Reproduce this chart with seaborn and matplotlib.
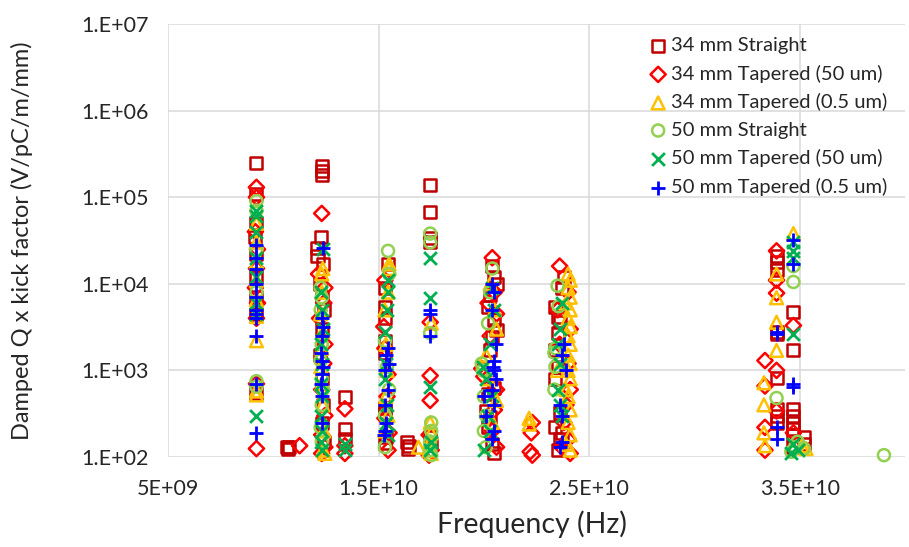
import numpy as np
import pandas as pd
import matplotlib
matplotlib.use("Agg")
import matplotlib.pyplot as plt
import seaborn as sns

# ---------------- data (frequency in GHz, value in V/pC/m/mm) ----------------
series_names = ["34 mm Straight", "34 mm Tapered (50 um)", "34 mm Tapered (0.5 um)",
                "50 mm Straight", "50 mm Tapered (50 um)", "50 mm Tapered (0.5 um)"]

s1_ghz = [9.2, 9.2, 9.2, 9.15, 9.2, 9.2, 9.2, 9.2, 9.2,
          10.65, 10.75, 10.7,
          12.3, 12.3, 12.3, 12.25, 12.1, 12.1, 12.35, 12.2, 12.3, 12.4, 12.3, 12.2, 12.3, 12.35, 12.3, 12.4,
          13.4, 13.4, 13.4,
          15.45, 15.3, 15.3, 15.3, 15.3, 15.3, 15.3, 15.3, 15.35, 15.3,
          16.35, 16.45, 16.4,
          17.45, 17.45, 17.45, 17.45, 17.45, 17.5,
          20.4, 20.5, 20.6, 20.3, 20.2, 20.5, 20.6, 20.4, 20.3, 20.5, 20.2, 20.1, 20.3, 20.2, 20.4, 20.5,
          23.8, 23.7, 23.4, 23.5, 23.6, 23.5, 23.4, 23.5, 23.4, 23.6, 23.4, 23.7, 23.6, 23.5,
          33.9, 33.9, 33.9, 33.9, 33.9, 33.9, 33.9, 33.9, 33.9,
          34.7, 34.7, 34.7, 34.7, 34.7, 34.7, 34.7, 34.7, 35.2, 35.2]
s1_val = [2.5e5, 1.1e5, 5.0e4, 3.5e4, 2.2e4, 1.2e4, 7e3, 4.5e3, 5.5e2,
          1.3e2, 1.3e2, 1.25e2,
          2.3e5, 2.0e5, 1.8e5, 3.5e4, 2.6e4, 2.1e4, 1.7e4, 1.0e4, 7e3, 5e3, 3e3, 1.5e3, 8e2, 4e2, 2.5e2, 1.5e2,
          4.9e2, 2.1e2, 1.6e2,
          1.7e4, 8.9e3, 5.4e3, 4.0e3, 2.2e3, 1.6e3, 3.7e2, 3.2e2, 1.7e2, 1.45e2,
          1.5e2, 1.35e2, 1.25e2,
          1.4e5, 6.8e4, 3.4e4, 3.0e4, 1.7e2, 1.4e2,
          1.6e4, 1.2e4, 1.0e4, 7.4e3, 5.4e3, 3.8e3, 2.9e3, 2.4e3, 1.7e3, 6.3e2, 5.3e2, 3.4e2, 2.9e2, 2.2e2, 1.4e2, 1.1e2,
          1.2e4, 9e3, 5.4e3, 4.1e3, 3.6e3, 2.7e3, 1.7e3, 1.1e3, 7.9e2, 3.2e2, 2.2e2, 1.9e2, 1.6e2, 1.2e2,
          2.1e4, 1.8e4, 1.45e4, 2.8e3, 2.6e3, 8.1e2, 3.6e2, 3.0e2, 2.5e2,
          4.7e3, 1.7e3, 3.6e2, 3.0e2, 2.5e2, 2.1e2, 1.8e2, 1.3e2, 1.7e2, 1.4e2]

s2_ghz = [9.2, 9.2, 9.15, 9.25, 9.2, 9.15, 9.25, 9.2, 9.2, 9.2,
          11.25,
          12.3, 12.15, 12.45, 12.4, 12.2, 12.45, 12.4, 12.3, 12.45, 12.3, 12.45, 12.3,
          13.4, 13.4, 13.4,
          15.3, 15.25, 15.3, 15.45, 15.4, 15.3, 15.5, 15.45,
          17.45, 17.45, 17.45, 17.4, 17.5, 17.4,
          20.4, 20.5, 20.2, 20.6, 20.3, 19.9, 20.0, 20.6, 20.5, 20.4, 20.6,
          22.3, 22.25, 22.2, 22.3,
          23.6, 24.0, 23.5, 24.1, 23.6, 24.0, 24.1, 23.9, 23.8, 24.0, 24.1, 23.7,
          33.9, 33.9, 33.9, 33.35, 33.35, 33.9, 33.9, 33.35, 33.35, 34.7, 34.7]
s2_val = [1.3e5, 1.0e5, 4e4, 2.5e4, 1.5e4, 9e3, 6e3, 4e3, 7e2, 1.25e2,
          1.35e2,
          6.5e4, 1.3e4, 9e3, 6e3, 4e3, 2e3, 1.2e3, 6e2, 3e2, 1.8e2, 1.3e2, 1.1e2,
          3.6e2, 1.35e2, 1.1e2,
          1.1e4, 3.2e3, 1.8e3, 9e2, 5e2, 2.8e2, 1.9e2, 1.2e2,
          8.7e2, 4.5e2, 3.6e3, 1.8e2, 1.2e2, 1.05e2,
          2.0e4, 8e3, 6e3, 4.5e3, 2.5e3, 1.05e3, 8.5e2, 6e2, 3.5e2, 2e2, 1.3e2,
          2.5e2, 1.9e2, 1.15e2, 1.05e2,
          1.6e4, 8e3, 5e3, 3e3, 2e3, 1.2e3, 6e2, 4e2, 2.5e2, 1.6e2, 1.1e2, 1.3e2,
          2.4e4, 1.1e4, 7.8e3, 1.3e3, 6.6e2, 1.0e3, 3.4e2, 2.2e2, 1.2e2, 3.3e3, 1.9e2]

s3_ghz = [9.2, 9.2, 9.2, 9.2, 9.2, 9.2, 9.2, 9.2, 9.2,
          12.35, 12.3, 12.3, 12.25, 12.35, 12.3, 12.25, 12.3, 12.35, 12.4, 12.35, 12.45,
          15.5, 15.5, 15.45, 15.3, 15.35, 15.4, 15.35, 15.45, 15.3,
          16.9,
          17.5, 17.45, 17.5, 17.45, 17.4, 17.5,
          20.3, 20.5, 20.6, 20.1, 20.2, 20.6, 20.4,
          22.15, 22.15,
          24.0, 24.1, 24.0, 24.1, 23.9, 24.1, 24.0, 24.1, 24.0, 24.1, 24.0, 24.1, 24.0, 24.1, 23.9,
          24.0, 24.1, 24.0, 24.1, 23.9, 24.1, 23.5,
          34.7, 33.9, 33.9, 33.9, 33.9, 33.3, 33.3, 33.3, 33.35, 35.1, 35.3]
s3_val = [5.0e4, 3.0e4, 1.8e4, 1.1e4, 6.5e3, 4.2e3, 2.2e3, 5.2e2, 5.8e2,
          1.5e4, 1.3e4, 8e3, 4.5e3, 2.8e3, 1.8e3, 1.1e3, 7e2, 4e2, 2e2, 1.2e2, 1.1e2,
          1.7e4, 1.5e4, 8e3, 5e3, 2e3, 1e3, 5e2, 3e2, 2e2,
          1.3e2,
          3.5e3, 2.5e2, 1.9e2, 1.5e2, 1.2e2, 1.1e2,
          1e4, 5e3, 3e3, 1.5e3, 8e2, 4.5e2, 2.5e2,
          2.8e2, 2.4e2,
          1.3e4, 1.1e4, 9e3, 7e3, 6e3, 5e3, 4e3, 3.2e3, 2.5e3, 2e3, 1.5e3, 1.2e3, 1e3, 8e2, 6e2,
          5e2, 3.5e2, 2.5e2, 1.8e2, 1.4e2, 1.2e2, 1e3,
          3.8e4, 1.3e4, 6.9e3, 3.6e3, 1.7e3, 7.2e2, 4e2, 1.9e2, 1.35e2, 1.35e2, 1.25e2]

s4_ghz = [9.2, 9.2, 9.2, 9.2, 9.2, 9.2,
          12.25, 12.3, 12.25, 12.3, 12.25, 12.3, 12.35, 12.3, 12.25, 12.3,
          15.45, 15.5, 15.3, 15.4, 15.5, 15.3, 15.3,
          17.45, 17.45, 17.45, 17.5, 17.5, 17.45, 17.45, 17.5,
          20.4, 20.3, 20.2, 19.9, 19.95, 20.0, 20.1, 20.0, 20.1,
          23.5, 23.55, 23.4, 23.35, 23.4, 23.35,
          34.7, 34.7, 33.9, 34.9, 34.8, 35.2, 34.6,
          39.0]
s4_val = [9e4, 7e4, 2.5e4, 8e3, 7.5e2, 6.5e2,
          9e3, 7e3, 5e3, 2e3, 1.3e3, 8e2, 6e2, 4e2, 2.2e2, 1.5e2,
          2.4e4, 1.3e4, 2.2e3, 1.1e3, 6e2, 3e2, 1.3e2,
          3.8e4, 3.0e4, 2.7e3, 2.5e2, 2e2, 1.5e2, 1.2e2, 1.05e2,
          1.5e4, 8e3, 3.5e3, 1.2e3, 1e3, 5e2, 3e2, 2e2, 1.3e2,
          9.5e3, 5.5e3, 1.8e3, 1.6e3, 1.1e3, 6e2,
          1.6e4, 1.05e4, 4.8e2, 1.5e2, 1.3e2, 1.25e2, 1.15e2,
          1.05e2]

s5_ghz = [9.2, 9.2, 9.2, 9.2, 9.2, 9.2, 9.2, 9.2,
          12.35, 12.25, 12.3, 12.35, 12.25, 12.3, 12.25, 12.3, 12.25, 12.3, 12.25, 12.3,
          13.4, 13.4,
          15.45, 15.45, 15.4, 15.3, 15.35, 15.3, 15.4, 15.35, 15.45,
          17.45, 17.45, 17.45, 17.5, 17.45,
          20.4, 20.5, 20.3, 19.95, 20.1, 20.4, 20.2, 20.3, 20.0,
          23.7, 23.6, 23.5, 23.6, 23.5, 23.6, 23.7,
          34.7, 34.7, 34.7, 34.7, 34.7, 34.6, 34.9]
s5_val = [7e4, 6e4, 4e4, 2e4, 1.2e4, 6e3, 4.5e3, 3e2,
          2.5e4, 8e3, 5e3, 3e3, 2e3, 1.2e3, 7e2, 5e2, 3e2, 2e2, 1.5e2, 1.2e2,
          1.4e2, 1.2e2,
          1.1e4, 8e3, 5e3, 2.8e3, 1.2e3, 8e2, 4e2, 2.5e2, 1.8e2,
          2.0e4, 6.9e3, 6.4e2, 1.5e2, 1.2e2,
          9e3, 5e3, 2e3, 1.1e3, 8e2, 5e2, 3e2, 2e2, 1.2e2,
          6e3, 3e3, 2e3, 1.2e3, 6e2, 4e2, 3e2,
          3.0e4, 2.4e4, 2.0e4, 2.6e3, 1.4e2, 1.1e2, 1.2e2]

s6_ghz = [9.2, 9.2, 9.2, 9.2, 9.2, 9.2, 9.2, 9.2, 9.2, 9.2, 9.2,
          12.35, 12.3, 12.35, 12.3, 12.25, 12.3, 12.35, 12.3, 12.25, 12.3, 12.3,
          15.45, 15.35, 15.5, 15.3, 15.45, 15.3, 15.35, 15.3, 15.25,
          17.45, 17.45, 17.45,
          20.4, 20.5, 20.4, 20.6, 20.5, 20.45, 20.5, 20.6, 20.4, 20.0, 20.5, 20.1, 20.5, 20.4,
          23.8, 23.7, 23.9, 23.6, 23.7, 23.7, 23.6,
          34.7, 34.7, 34.7, 34.7, 33.9, 33.9, 33.9, 33.9]
s6_val = [2.8e4, 2.0e4, 1.5e4, 1.0e4, 7e3, 5e3, 4.5e3, 4e3, 2.5e3, 7e2, 1.9e2,
          2.6e4, 4e3, 3.2e3, 2.5e3, 1.6e3, 1.3e3, 1.1e3, 9e2, 7e2, 5e2, 2.5e2,
          1.8e3, 1.5e3, 1.2e3, 1e3, 6e2, 4e2, 2.5e2, 2e2, 1.8e2,
          5e3, 4.5e3, 2.5e3,
          1e4, 8e3, 5e3, 2e3, 1.3e3, 1.1e3, 1e3, 8e2, 6e2, 5e2, 4e2, 3e2, 2e2, 1.6e2,
          2e3, 1.5e3, 1e3, 4e2, 3e2, 1.5e2, 1.3e2,
          3.2e4, 1.7e4, 7e2, 6.5e2, 2.8e3, 2.6e3, 2.2e2, 1.6e2]

x_ticks = [5e9, 1.5e10, 2.5e10, 3.5e10]
x_tick_labels = ["5E+09", "1.5E+10", "2.5E+10", "3.5E+10"]
y_ticks = [1e2, 1e3, 1e4, 1e5, 1e6, 1e7]
y_tick_labels = ["1.E+02", "1.E+03", "1.E+04", "1.E+05", "1.E+06", "1.E+07"]

# ---------------- styling ----------------
colors = ["#C00000", "#FF0000", "#FFC000", "#92D050", "#00B050", "#0000FF"]
markers = ["s", "D", "^", "o", "x", "+"]
sizes = [75, 60, 85, 75, 85, 115]

sns.set_style("white")
plt.rcParams["font.family"] = ["Lato", "DejaVu Sans"]

W, H = 909, 547
fig = plt.figure(figsize=(W / 100, H / 100), dpi=100)
L, R, T, B = 168, 905, 24, 457
ax = fig.add_axes([L / W, 1 - B / H, (R - L) / W, (B - T) / H])

all_ghz = [s1_ghz, s2_ghz, s3_ghz, s4_ghz, s5_ghz, s6_ghz]
all_val = [s1_val, s2_val, s3_val, s4_val, s5_val, s6_val]

for name, g, v, c, m, s in zip(series_names, all_ghz, all_val, colors, markers, sizes):
    df = pd.DataFrame({"freq": np.array(g) * 1e9, "value": v})
    if m in ("x", "+"):
        sns.scatterplot(data=df, x="freq", y="value", ax=ax, marker=m, color=c,
                        s=s, linewidth=2.0, label=name, clip_on=False)
    else:
        sns.scatterplot(data=df, x="freq", y="value", ax=ax, marker=m, color=c,
                        facecolors="none", edgecolor=c, s=s, linewidth=1.8,
                        label=name, clip_on=False)

ax.set_yscale("log")
ax.set_xlim(5e9, 4e10)
ax.set_ylim(1e2, 1e7)
ax.set_xticks(x_ticks)
ax.set_xticklabels(x_tick_labels)
ax.set_yticks(y_ticks)
ax.set_yticklabels(y_tick_labels)
ax.yaxis.set_minor_locator(matplotlib.ticker.NullLocator())
ax.tick_params(axis="both", length=0, labelsize=15.5, colors="#262626")
ax.tick_params(axis="y", pad=14)
ax.tick_params(axis="x", pad=16)

ax.grid(True, color="#D9D9D9", linewidth=1.1)
ax.set_axisbelow(True)
for sp in ax.spines.values():
    sp.set_visible(False)

ax.set_xlabel("Frequency (Hz)", fontsize=20.5, color="#262626")
ax.set_ylabel("Damped Q x kick factor (V/pC/m/mm)", fontsize=17, color="#262626")
ax.xaxis.set_label_coords(0.5 - 5 / (R - L), (B - 524) / (B - T))
ax.xaxis.label.set_va("center")
ax.yaxis.set_label_coords((22 - L) / (R - L), 0.5)
ax.yaxis.label.set_va("center")

leg = ax.legend(loc="upper left", bbox_to_anchor=((638 - L) / (R - L), 1 - 5 / (B - T)),
                frameon=False, fontsize=14.5, handletextpad=0.05, labelspacing=0.52,
                borderaxespad=0.0, handlelength=1.2)
for t in leg.get_texts():
    t.set_color("#262626")

fig.savefig("out.png", dpi=100)
